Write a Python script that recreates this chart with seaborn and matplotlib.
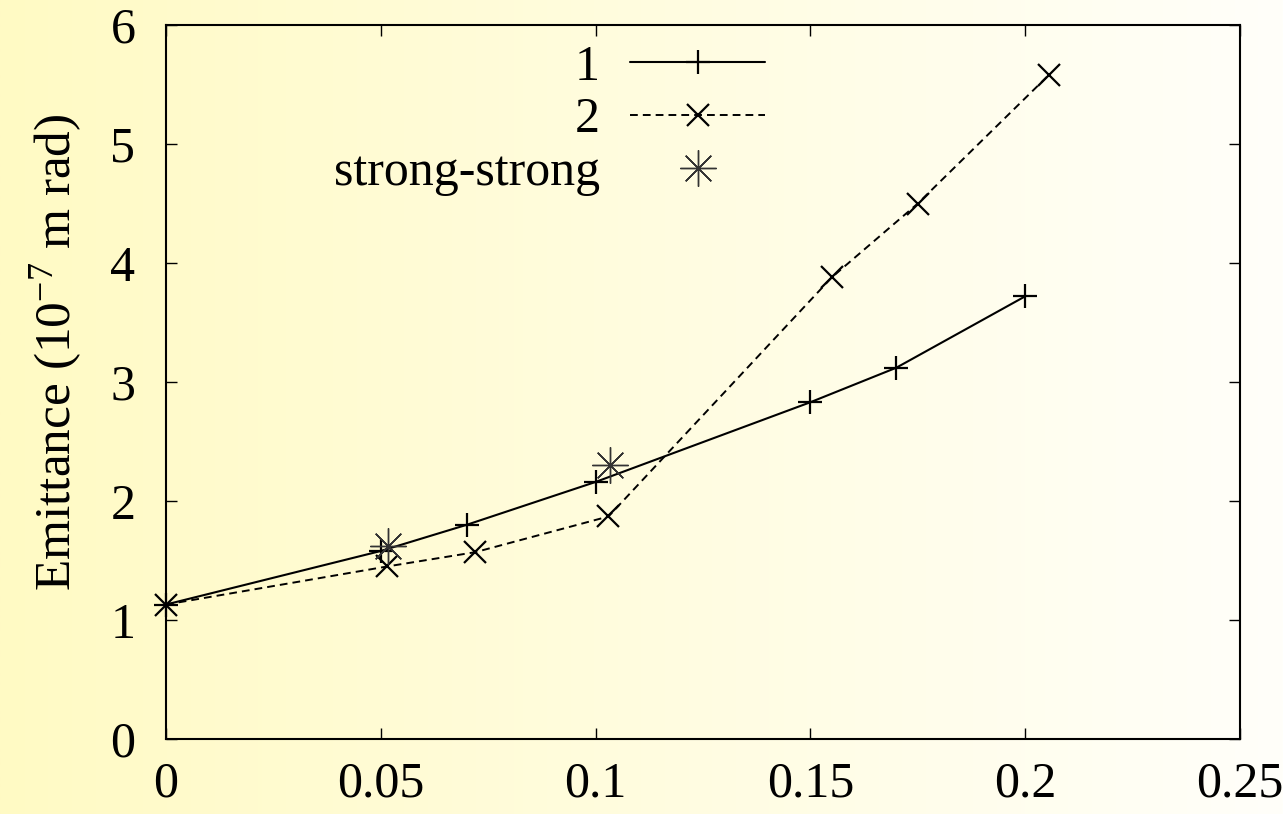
import numpy as np
import pandas as pd
import matplotlib
matplotlib.use("Agg")
import matplotlib.pyplot as plt
import seaborn as sns

# ---- data ----
x1 = [0.0, 0.05, 0.07, 0.10, 0.15, 0.17, 0.20]
y1 = [1.13, 1.58, 1.80, 2.16, 2.83, 3.12, 3.72]
x2 = [0.0, 0.0515, 0.072, 0.103, 0.155, 0.175, 0.2055]
y2 = [1.13, 1.45, 1.57, 1.87, 3.88, 4.50, 5.58]
xs = [0.0517, 0.1034]
ys = [1.62, 2.30]
labels = ["1", "2", "strong-strong"]
xticks = [0, 0.05, 0.1, 0.15, 0.2, 0.25]
xtick_labels = ["0", "0.05", "0.1", "0.15", "0.2", "0.25"]
yticks = [0, 1, 2, 3, 4, 5, 6]

sns.set_theme(style="white")
plt.rcParams['font.family'] = ['Liberation Serif', 'DejaVu Serif']
plt.rcParams['mathtext.fontset'] = 'custom'
plt.rcParams['mathtext.rm'] = 'Liberation Serif'
plt.rcParams['mathtext.it'] = 'Liberation Serif:italic'

fig = plt.figure(figsize=(12.83, 8.14), dpi=100)

# background gradient yellow -> white
bg = fig.add_axes([0, 0, 1, 1], zorder=-10)
t = np.linspace(0, 1, 512)
c0 = np.array([255, 250, 196]) / 255.0
c1 = np.array([255, 255, 250]) / 255.0
grad = (c0[None, :] * (1 - t[:, None]) + c1[None, :] * t[:, None])[None, :, :]
bg.imshow(grad, aspect='auto', extent=[0, 1, 0, 1])
bg.set_axis_off()

ax = fig.add_axes([166/1283, 1 - 739/814, (1240-166)/1283, (739-25)/814])
ax.set_facecolor('none')

df1 = pd.DataFrame({"x": x1, "y": y1})
df2 = pd.DataFrame({"x": x2, "y": y2})
dfs = pd.DataFrame({"x": xs, "y": ys})

sns.lineplot(data=df1, x="x", y="y", ax=ax, color='black', lw=1.5,
             marker='+', markersize=17, mew=1.6, mec='black',
             estimator=None, sort=False, label=labels[0], clip_on=False)
sns.lineplot(data=df2, x="x", y="y", ax=ax, color='black', lw=1.4,
             linestyle=(0, (4, 2.6)), marker='x', markersize=16, mew=1.6,
             mec='black', estimator=None, sort=False, label=labels[1],
             clip_on=False)
sns.lineplot(data=dfs, x="x", y="y", ax=ax, color='#333333', lw=0,
             linestyle='none', marker=(8, 2, 0), markersize=26, mew=1.0,
             mec='#333333', estimator=None, sort=False, label=labels[2],
             clip_on=False)

ax.set_xlim(0, 0.25)
ax.set_ylim(0, 6)
ax.set_xticks(xticks)
ax.set_xticklabels(xtick_labels)
ax.set_yticks(yticks)
ax.set_yticklabels([str(v) for v in yticks])
ax.tick_params(axis='both', which='major', direction='in', length=8, width=1.0,
               top=True, right=True, bottom=True, left=True, labelsize=36,
               colors='black')
ax.tick_params(axis='y', pad=22)
ax.tick_params(axis='x', pad=16)
for s in ax.spines.values():
    s.set_color('black')
    s.set_linewidth(1.5)

ax.set_xlabel("")
ax.set_ylabel(r"Emittance (10$^{-7}$ m rad)", fontsize=37, color='black')
ax.yaxis.set_label_coords(-0.076, 0.542)

handles, labs = ax.get_legend_handles_labels()
leg = ax.legend(handles, labs, loc='upper right',
                bbox_to_anchor=((765-166)/1074, (739-44)/714),
                frameon=False, markerfirst=False, fontsize=36,
                handlelength=2.7, handletextpad=0.6, labelspacing=0.13,
                borderpad=0, borderaxespad=0, numpoints=1)
for txt in leg.get_texts():
    txt.set_color('black')

fig.savefig("out.png", dpi=100)
